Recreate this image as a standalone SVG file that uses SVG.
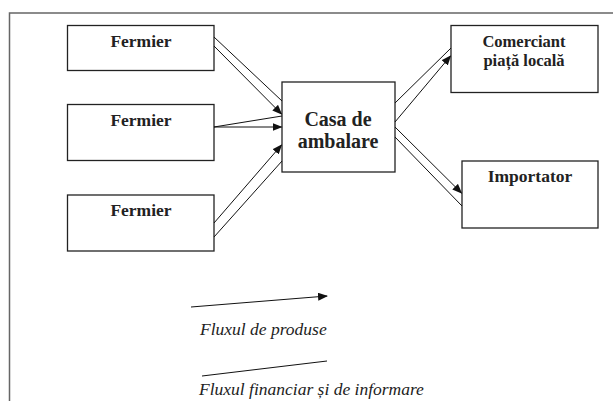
<svg xmlns="http://www.w3.org/2000/svg" width="613" height="401" viewBox="0 0 613 401">
<defs>
<marker id="ah" markerWidth="10" markerHeight="8" refX="9" refY="4" orient="auto" markerUnits="userSpaceOnUse">
<path d="M0,0 L10,4 L0,8 Z" fill="#111"/>
</marker>
<style>
.box{fill:#fff;stroke:#222;stroke-width:1.3}
.lbl{font-family:"Liberation Serif","Times New Roman",serif;font-weight:bold;font-size:17.5px;fill:#222;text-anchor:middle}
.big{font-size:20px}
.sm{font-size:16.5px}
.leg{font-family:"Liberation Serif","Times New Roman",serif;font-style:italic;font-size:17.5px;fill:#222}
.ln{stroke:#111;stroke-width:1;fill:none}
.arr{stroke:#111;stroke-width:1;fill:none;marker-end:url(#ah)}
</style>
</defs>
<rect width="613" height="401" fill="#fff"/>
<path d="M9.5,401 V13 H613" fill="none" stroke="#666" stroke-width="1.5"/>
<g id="fermier1"><rect class="box" x="67.5" y="25.5" width="146.5" height="45"/><text class="lbl" x="141" y="47">Fermier</text></g>
<g id="fermier2"><rect class="box" x="67.5" y="104.5" width="146.5" height="56"/><text class="lbl" x="141" y="126">Fermier</text></g>
<g id="fermier3"><rect class="box" x="67.5" y="195" width="146.5" height="56"/><text class="lbl" x="141" y="216">Fermier</text></g>
<g id="casa"><rect class="box" x="282" y="82" width="113" height="90"/><text class="lbl big" x="338" y="126">Casa de</text><text class="lbl big" x="338" y="148">ambalare</text></g>
<g id="comerciant"><rect class="box" x="451" y="25.5" width="147" height="67"/><text class="lbl sm" x="524" y="46.5">Comerciant</text><text class="lbl sm" x="524" y="65.5">piață locală</text></g>
<g id="importator"><rect class="box" x="462" y="161" width="136" height="67"/><text class="lbl" x="530" y="182">Importator</text></g>
<g id="connectors">
<line class="ln" x1="214" y1="37" x2="282" y2="101"/>
<line class="arr" x1="214" y1="46" x2="281.5" y2="114"/>
<line class="ln" x1="214" y1="127" x2="282" y2="116"/>
<line class="arr" x1="214" y1="127" x2="281.5" y2="127"/>
<line class="arr" x1="214" y1="223" x2="281.5" y2="145"/>
<line class="ln" x1="214" y1="237" x2="282" y2="161"/>
<line class="ln" x1="395" y1="103" x2="451" y2="48"/>
<line class="arr" x1="395" y1="122" x2="450.5" y2="56"/>
<line class="arr" x1="395" y1="127" x2="461.5" y2="193"/>
<line class="ln" x1="395" y1="137" x2="462" y2="206"/>
<line class="arr" x1="191" y1="307" x2="327" y2="296"/>
<line class="ln" x1="202" y1="376" x2="327" y2="361"/>
</g>
<text class="leg" x="200" y="335">Fluxul de produse</text>
<text class="leg" x="199" y="395">Fluxul financiar și de informare</text>
</svg>
